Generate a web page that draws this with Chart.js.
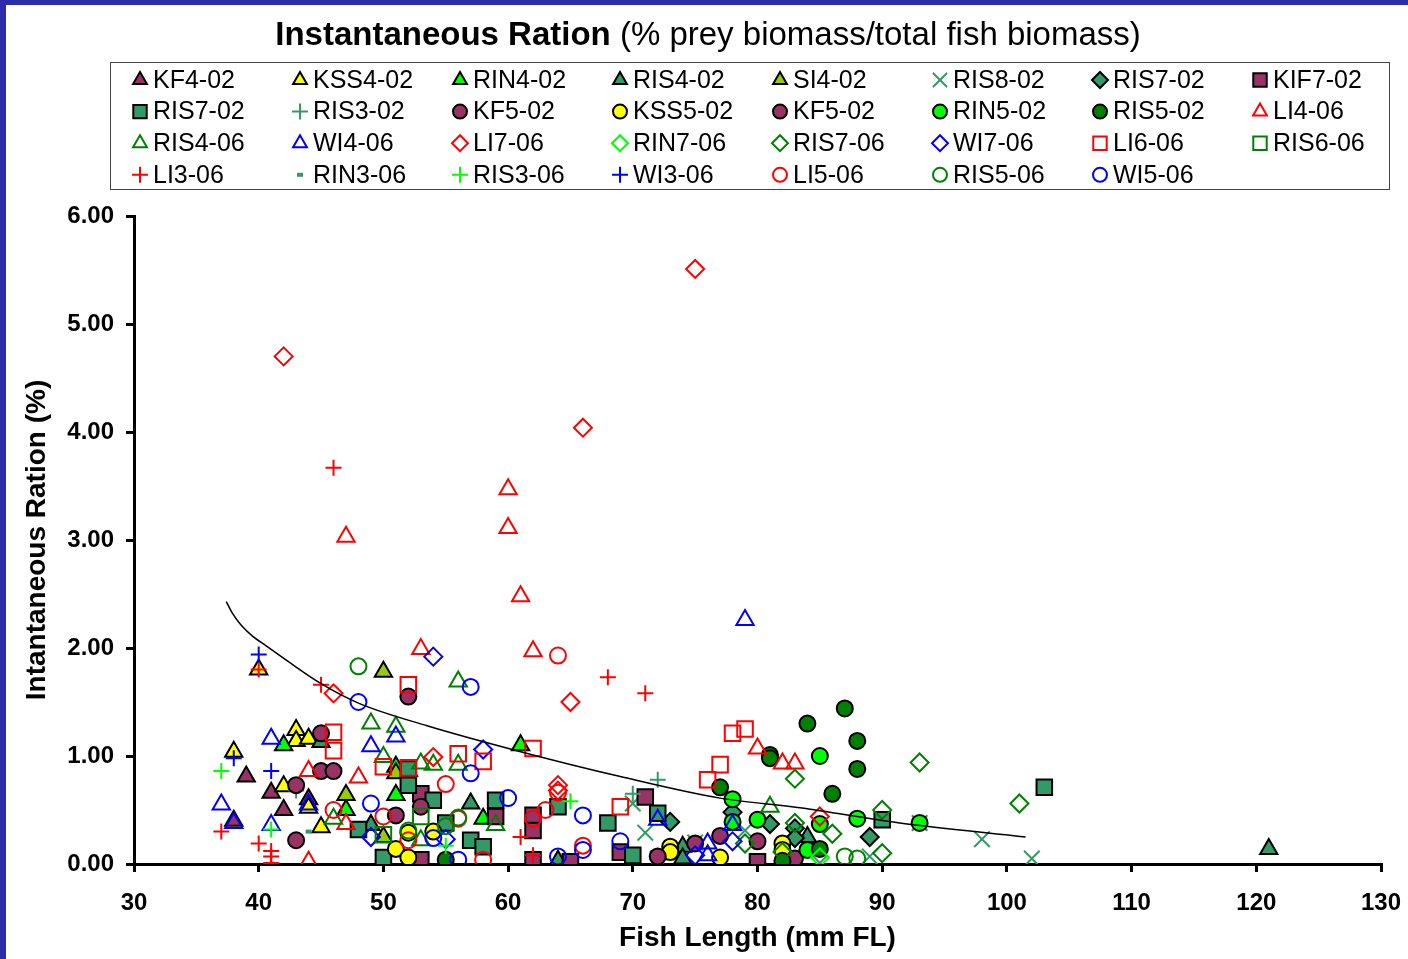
<!DOCTYPE html>
<html>
<head>
<meta charset="utf-8">
<script src="https://cdn.jsdelivr.net/npm/chart.js@4.4.1/dist/chart.umd.min.js"></script>
<style>
  html, body { margin: 0; padding: 0; background: #fff; }
  #wrap { position: relative; width: 1408px; height: 959px; overflow: hidden; background: #fff; }
  #wrap canvas { display: block; }
  .bar { position: absolute; background: #2d2dab; }
</style>
</head>
<body>
<div id="wrap">
  <canvas id="rationChart" width="1408" height="959"></canvas>
  <div class="bar" style="left:0;top:0;width:1408px;height:5px"></div>
  <div class="bar" style="left:0;top:0;width:6px;height:959px"></div>
</div>
<script>
// series names, in legend order
const seriesNames = ['KF4-02','KSS4-02','RIN4-02','RIS4-02','SI4-02','RIS8-02','RIS7-02','KIF7-02',
  'RIS7-02','RIS3-02','KF5-02','KSS5-02','KF5-02','RIN5-02','RIS5-02','LI4-06',
  'RIS4-06','WI4-06','LI7-06','RIN7-06','RIS7-06','WI7-06','LI6-06','RIS6-06',
  'LI3-06','RIN3-06','RIS3-06','WI3-06','LI5-06','RIS5-06','WI5-06'];

// [fish length mm, ration %]
const kf4_02 = [[38,0.40],[39,0.81],[41,0.66],[42,0.50],[44,0.60]];
const kss4_02 = [[38,1.04],[40,1.80],[42,0.72],[43,1.24],[43,1.14],[44,1.16],[44,0.52],[45,0.34],[52,0.86]];
const rin4_02 = [[42,1.10],[47,0.50],[51,0.64],[51,0.90],[58,0.42],[61,1.10]];
const ris4_02 = [[45,1.13],[49,0.36],[57,0.56],[64,0.03],[74,0.16],[74,0.05],[84,0.25],[121,0.14]];
const si4_02 = [[47,0.64],[50,1.78],[50,0.25],[51,0.84],[53,0.00]];
const ris8_02 = [[70,0.56],[71,0.29],[72,0.05],[75,0.20],[79,0.31],[85,0.01],[89,0.07],[93,0.38],[98,0.23],[102,0.05]];
const ris7_02d = [[73,0.39],[78,0.48],[81,0.37],[83,0.33],[83,0.24],[89,0.25]];
const kif7_02 = [[53,0.65],[53,0.04],[59,0.44],[62,0.45],[62,0.31],[62,0.04],[65,0.02],[69,0.11],[71,0.62],[80,0.02]];
const ris7_02s = [[48,0.32],[50,0.06],[52,0.73],[52,0.88],[54,0.59],[55,0.38],[57,0.22],[58,0.16],[59,0.59],[64,0.53],[68,0.38],[70,0.08],[72,0.47],[90,0.41],[103,0.71]];
const ris3_02 = [[43,0.68],[70,0.65],[72,0.78]];
const kf5_02a = [[43,0.73],[43,0.22],[45,1.21],[45,0.86],[46,0.86],[51,0.45],[52,1.55],[53,0.53]];
const kss5_02 = [[51,0.14],[52,0.06],[52,0.29],[54,0.30],[73,0.16],[73,0.11],[77,0.06],[82,0.19],[82,0.13]];
const kf5_02b = [[72,0.07],[75,0.19],[77,0.26],[80,0.21],[83,0.05]];
const rin5_02 = [[78,0.60],[78,0.39],[80,0.41],[84,0.13],[85,1.00],[85,0.37],[88,0.42],[93,0.38]];
const ris5_02 = [[55,0.04],[77,0.71],[81,1.01],[81,0.98],[82,0.03],[84,1.30],[85,0.14],[86,0.65],[87,1.44],[88,1.14],[88,0.88]];
const li4_06 = [[44,0.86],[44,0.02],[47,3.03],[47,0.37],[48,0.80],[53,1.99],[60,3.47],[60,3.11],[61,2.48],[62,1.97],[80,1.07],[82,0.93],[83,0.93]];
const ris4_06 = [[46,0.42],[49,1.30],[50,0.99],[51,1.27],[53,0.93],[53,0.22],[54,0.92],[56,1.69],[56,0.92],[59,0.36],[81,0.53]];
const wi4_06 = [[37,0.55],[38,0.38],[41,1.16],[41,0.36],[44,0.55],[49,1.09],[51,1.18],[72,0.41],[76,0.19],[76,0.08],[78,0.36],[79,2.26]];
const li7_06 = [[42,4.70],[46,1.58],[54,0.99],[64,0.73],[64,0.68],[65,1.50],[66,4.04],[75,5.51],[85,0.44]];
const rin7_06 = [[85,0.06]];
const ris7_06 = [[79,0.19],[82,0.11],[83,0.79],[83,0.38],[86,0.28],[90,0.50],[90,0.10],[93,0.94],[101,0.56]];
const wi7_06 = [[49,0.25],[54,1.92],[55,0.23],[58,1.06],[75,0.08],[78,0.21]];
const li6_06 = [[46,1.22],[46,1.05],[50,0.90],[52,1.66],[52,0.89],[56,1.02],[58,0.95],[62,1.07],[69,0.53],[76,0.78],[77,0.92],[78,1.21],[79,1.25]];
const ris6_06 = [[53,0.44],[50,0.27]];
const li3_06 = [[37,0.30],[40,1.80],[40,0.19],[41,0.12],[41,0.07],[41,0.01],[45,1.66],[46,3.67],[61,0.25],[62,0.08],[68,1.73],[71,1.58]];
const rin3_06 = [[44,0.30]];
const ris3_06 = [[37,0.86],[41,0.32],[55,0.17],[65,0.58]];
const wi3_06 = [[38,0.98],[40,1.94],[41,0.86]];
const li5_06 = [[46,0.50],[50,0.44],[52,0.22],[55,0.74],[56,0.42],[58,0.04],[62,0.42],[63,0.50],[64,0.66],[64,1.93],[66,0.17]];
const ris5_06 = [[48,1.83],[52,0.31],[55,0.35],[56,0.43],[87,0.07],[88,0.05]];
const wi5_06 = [[48,1.50],[49,0.56],[54,0.24],[56,0.04],[57,1.64],[57,0.84],[60,0.61],[64,0.07],[66,0.45],[66,0.13],[69,0.21]];

const seriesData = [kf4_02, kss4_02, rin4_02, ris4_02, si4_02, ris8_02, ris7_02d, kif7_02,
  ris7_02s, ris3_02, kf5_02a, kss5_02, kf5_02b, rin5_02, ris5_02, li4_06,
  ris4_06, wi4_06, li7_06, rin7_06, ris7_06, wi7_06, li6_06, ris6_06,
  li3_06, rin3_06, ris3_06, wi3_06, li5_06, ris5_06, wi5_06];

// trend line, points
const trendX = [37.4, 37.9, 38.6, 39.5, 40.6, 42.3, 45, 48, 53.5, 61, 69, 77, 83.4, 91.4, 101.5];
const trendY = [2.43, 2.32, 2.21, 2.11, 2.02, 1.88, 1.67, 1.49, 1.28, 1.04, 0.81, 0.61, 0.52, 0.38, 0.25];

// marker look per series: [pointStyle, colour, filled]
const MAROON = '#993366', YELLOW = '#ffff00', LIME = '#00ff00', SEA = '#339966',
      OLIVE = '#99cc00', DKGREEN = '#008000', RED = '#ff0000', BLUE = '#0000ff';
const markers = [
  ['triangle', MAROON, true], ['triangle', YELLOW, true], ['triangle', LIME, true], ['triangle', SEA, true],
  ['triangle', OLIVE, true], ['crossRot', SEA, false], ['rectRot', SEA, true], ['rect', MAROON, true],
  ['rect', SEA, true], ['cross', SEA, false], ['circle', MAROON, true], ['circle', YELLOW, true],
  ['circle', MAROON, true], ['circle', LIME, true], ['circle', DKGREEN, true], ['triangle', RED, false],
  ['triangle', DKGREEN, false], ['triangle', BLUE, false], ['rectRot', RED, false], ['rectRot', LIME, false],
  ['rectRot', DKGREEN, false], ['rectRot', BLUE, false], ['rect', RED, false], ['rect', DKGREEN, false],
  ['cross', RED, false], ['line', SEA, false], ['cross', LIME, false], ['cross', BLUE, false],
  ['circle', RED, false], ['circle', DKGREEN, false], ['circle', BLUE, false]
];
const plotRadius = { triangle: 10, circle: 8, rect: 11, rectRot: 9, cross: 8, crossRot: 11, line: 3 };
const legendRadius = { triangle: 8, circle: 7, rect: 9.5, rectRot: 8, cross: 8, crossRot: 10, line: 3 };

const FONT = 'Arial, "Liberation Sans", sans-serif';
Chart.defaults.font.family = FONT;
Chart.defaults.color = '#000';

function markerColours(m) {
  const [style, col, filled] = m;
  if (style === 'cross' || style === 'crossRot' || style === 'line') {
    return { bg: col, border: col, width: style === 'line' ? 4 : 2 };
  }
  return filled ? { bg: col, border: '#000', width: 2 } : { bg: 'rgba(0,0,0,0)', border: col, width: 2 };
}

const datasets = seriesData.map((pts, i) => {
  const c = markerColours(markers[i]);
  return {
    label: seriesNames[i],
    data: pts.map(p => ({ x: p[0], y: p[1] })),
    pointStyle: markers[i][0],
    pointRadius: plotRadius[markers[i][0]],
    backgroundColor: c.bg,
    borderColor: c.border,
    pointBorderWidth: c.width,
    borderWidth: c.width,
    showLine: false,
    order: -i
  };
});
datasets.push({
  label: 'trend',
  type: 'line',
  data: trendX.map((x, i) => ({ x: x, y: trendY[i] })),
  borderColor: '#000',
  borderWidth: 1.5,
  pointRadius: 0,
  fill: false,
  cubicInterpolationMode: 'monotone',
  order: -100
});

// title with mixed weight, and the boxed 8-column legend
const headerPlugin = {
  id: 'header',
  afterDraw(chart) {
    const ctx = chart.ctx;
    ctx.save();
    const boldPart = 'Instantaneous Ration';
    const normPart = ' (% prey biomass/total fish biomass)';
    ctx.textBaseline = 'middle';
    ctx.fillStyle = '#000';
    ctx.font = 'bold 33px ' + FONT;
    const wb = ctx.measureText(boldPart).width;
    ctx.font = '33px ' + FONT;
    const wn = ctx.measureText(normPart).width;
    let x0 = 708 - (wb + wn) / 2;
    ctx.font = 'bold 33px ' + FONT;
    ctx.fillText(boldPart, x0, 36);
    ctx.font = '33px ' + FONT;
    ctx.fillText(normPart, x0 + wb, 36);

    ctx.strokeStyle = '#444';
    ctx.lineWidth = 1;
    ctx.strokeRect(110.5, 62.5, 1279, 127);

    ctx.font = '25px ' + FONT;
    seriesNames.forEach((name, i) => {
      const col = i % 8, row = Math.floor(i / 8);
      const mx = 140 + 160 * col, my = 80 + 31.6 * row;
      const m = markers[i];
      const c = markerColours(m);
      ctx.fillStyle = c.bg;
      ctx.strokeStyle = c.border;
      ctx.lineWidth = c.width;
      const r = legendRadius[m[0]];
      Chart.helpers.drawPoint(ctx, { pointStyle: m[0], rotation: 0, radius: r, borderWidth: c.width }, mx, my);
      ctx.fillStyle = '#000';
      ctx.textBaseline = 'middle';
      ctx.fillText(name, mx + 13, my + 1);
    });
    ctx.restore();
  }
};

const tickFont = { size: 24, weight: 'bold' };
const titleFont = { size: 28, weight: 'bold' };

new Chart(document.getElementById('rationChart').getContext('2d'), {
  type: 'scatter',
  data: { datasets: datasets },
  options: {
    responsive: false,
    animation: false,
    layout: { padding: { top: 216, right: 27, left: 0, bottom: 0 } },
    plugins: {
      legend: { display: false },
      title: { display: false },
      tooltip: { enabled: false }
    },
    scales: {
      x: {
        type: 'linear', min: 30, max: 130,
        ticks: { stepSize: 10, font: tickFont, color: '#000', padding: 17, maxRotation: 0 },
        grid: { drawOnChartArea: false, tickLength: 8, color: '#000', lineWidth: 3 },
        border: { color: '#000', width: 3 },
        title: { display: true, text: 'Fish Length (mm FL)', font: titleFont, color: '#000', padding: { top: 0, bottom: 4 } },
        afterFit: (s) => { s.height = 95; s.paddingLeft = 0; s.paddingRight = 0; }
      },
      y: {
        min: 0, max: 6,
        ticks: { stepSize: 1, font: tickFont, color: '#000', padding: 12, callback: v => v.toFixed(2) },
        grid: { drawOnChartArea: false, tickLength: 8, color: '#000', lineWidth: 3 },
        border: { color: '#000', width: 3 },
        title: { display: true, text: 'Intantaneous Ration (%)', font: titleFont, color: '#000', padding: { top: 20, bottom: 0 } },
        afterFit: (s) => { s.width = 134; s.paddingTop = 0; s.paddingBottom = 0; }
      }
    }
  },
  plugins: [headerPlugin]
});
</script>
</body>
</html>
